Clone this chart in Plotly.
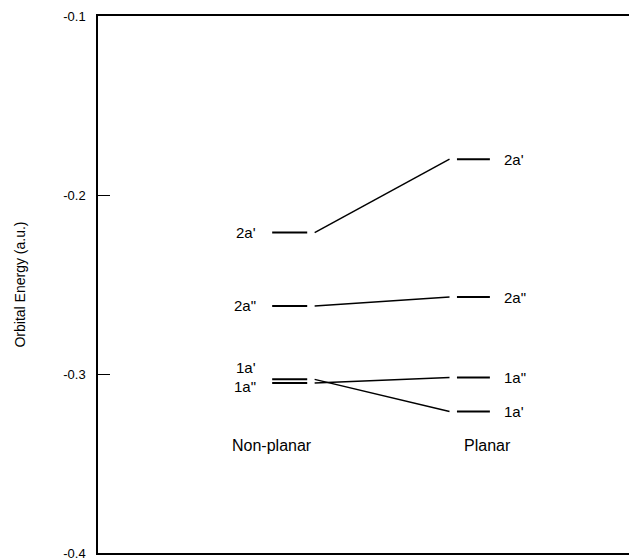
import plotly.graph_objects as go

# ---- data ----
orbital_labels = ["2a'", '2a"', "1a'", '1a"']
nonplanar_energy = [-0.221, -0.262, -0.303, -0.305]
planar_energy = [-0.180, -0.257, -0.321, -0.302]
column_names = ["Non-planar", "Planar"]
column_label_energy = -0.340
y_tick_vals = [-0.1, -0.2, -0.3, -0.4]
y_tick_text = ["-0.1", "-0.2", "-0.3", "-0.4"]

# ---- layout constants (x in arbitrary units, 0..10 across the plot) ----
NP_X0, NP_X1 = 3.28, 3.94
PL_X0, PL_X1 = 6.76, 7.38
CONN_GAP = 0.14
NP_LABEL_X = 3.02
PL_LABEL_X = 7.60
COL_X = [3.28, 7.34]
FONT = "Liberation Sans, Arial, sans-serif"

fig = go.Figure()

# level bars
for e in nonplanar_energy:
    fig.add_trace(go.Scatter(x=[NP_X0, NP_X1], y=[e, e], mode="lines",
                             line=dict(color="black", width=2), showlegend=False,
                             hoverinfo="skip"))
for e in planar_energy:
    fig.add_trace(go.Scatter(x=[PL_X0, PL_X1], y=[e, e], mode="lines",
                             line=dict(color="black", width=2), showlegend=False,
                             hoverinfo="skip"))
# correlation lines
for e0, e1 in zip(nonplanar_energy, planar_energy):
    fig.add_trace(go.Scatter(x=[NP_X1 + CONN_GAP, PL_X0 - CONN_GAP], y=[e0, e1],
                             mode="lines", line=dict(color="black", width=1.5),
                             showlegend=False, hoverinfo="skip"))

annotations = []
np_shift = {"1a'": 12, '1a"': -4}
for lab, e in zip(orbital_labels, nonplanar_energy):
    annotations.append(dict(x=NP_LABEL_X, y=e, text=lab, showarrow=False,
                            xanchor="right", yanchor="middle",
                            yshift=np_shift.get(lab, 0),
                            font=dict(family=FONT, size=15, color="black")))
for lab, e in zip(orbital_labels, planar_energy):
    annotations.append(dict(x=PL_LABEL_X, y=e, text=lab, showarrow=False,
                            xanchor="left", yanchor="middle",
                            font=dict(family=FONT, size=15, color="black")))
for name, cx in zip(column_names, COL_X):
    annotations.append(dict(x=cx, y=column_label_energy, text=name, showarrow=False,
                            xanchor="center", yanchor="middle",
                            font=dict(family=FONT, size=16, color="black")))

fig.update_layout(
    width=629, height=560,
    margin=dict(l=98, r=0, t=16, b=7),
    paper_bgcolor="white", plot_bgcolor="white",
    font=dict(family=FONT, size=12, color="black"),
    annotations=annotations,
    xaxis=dict(range=[0, 10], showgrid=False, zeroline=False, showticklabels=False,
               ticks="", showline=True, linecolor="black", linewidth=2, mirror=True),
    yaxis=dict(range=[-0.4, -0.1], showgrid=False, zeroline=False,
               tickvals=y_tick_vals, ticktext=y_tick_text,
               ticks="inside", ticklen=12, tickwidth=1, tickcolor="black",
               ticklabelstandoff=8, ticklabeloverflow="allow",
               showline=True, linecolor="black", linewidth=1.5,
               tickfont=dict(family=FONT, size=13, color="black"),
               title=dict(text="Orbital Energy (a.u.)", standoff=34,
                          font=dict(family=FONT, size=14, color="black"))),
)

fig.write_html("out.html", config={"displayModeBar": False},
               post_script="document.body.style.margin='0';")
